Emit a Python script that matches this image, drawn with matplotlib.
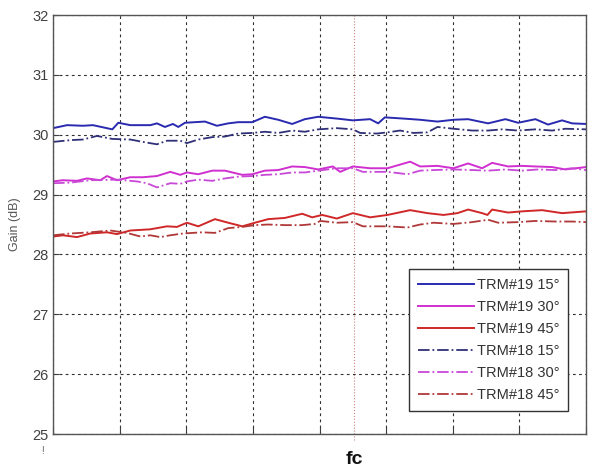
import matplotlib
matplotlib.use('Agg')
import matplotlib.pyplot as plt

plt.rcParams['font.family'] = ['Liberation Sans', 'DejaVu Sans']

# Frequency axis in grid units (8 divisions), fc marker position
fc = 4.52

# TRM#19 15 deg (solid)
x19_15 = [0, 0.21, 0.45, 0.60, 0.89, 0.98, 1.16, 1.46, 1.56, 1.68, 1.80, 1.88, 1.98, 2.28, 2.46, 2.63, 2.78,
          2.99, 3.18, 3.38, 3.59, 3.78, 3.98, 4.26, 4.50, 4.76, 4.88, 4.98, 5.26, 5.51, 5.77, 6.01, 6.23,
          6.53, 6.79, 6.98, 7.24, 7.43, 7.64, 7.79, 8.0]
g19_15 = [30.11, 30.16, 30.15, 30.16, 30.09, 30.20, 30.16, 30.16, 30.19, 30.13, 30.18, 30.13, 30.20, 30.22,
          30.15, 30.19, 30.21, 30.21, 30.30, 30.25, 30.18, 30.26, 30.30, 30.27, 30.24, 30.26, 30.19, 30.29,
          30.27, 30.25, 30.22, 30.25, 30.26, 30.19, 30.26, 30.20, 30.26, 30.17, 30.24, 30.19, 30.18]

# TRM#19 30 deg
x19_30 = [0, 0.15, 0.36, 0.51, 0.71, 0.81, 0.96, 1.16, 1.35, 1.56, 1.76, 1.91, 2.01, 2.18, 2.39, 2.58, 2.84,
          2.99, 3.18, 3.38, 3.59, 3.78, 3.98, 4.20, 4.31, 4.50, 4.76, 5.02, 5.36, 5.51, 5.77, 6.01, 6.23,
          6.44, 6.59, 6.83, 7.04, 7.24, 7.49, 7.69, 8.0]
g19_30 = [29.22, 29.24, 29.23, 29.27, 29.24, 29.31, 29.24, 29.29, 29.29, 29.31, 29.38, 29.33, 29.37, 29.34,
          29.40, 29.40, 29.33, 29.34, 29.40, 29.41, 29.47, 29.46, 29.42, 29.47, 29.38, 29.47, 29.44, 29.44,
          29.55, 29.47, 29.48, 29.44, 29.52, 29.44, 29.53, 29.47, 29.48, 29.47, 29.46, 29.42, 29.46]

# TRM#19 45 deg
x19_45 = [0, 0.15, 0.36, 0.56, 0.81, 0.96, 1.16, 1.46, 1.71, 1.86, 2.01, 2.18, 2.43, 2.63, 2.84, 3.03, 3.23,
          3.48, 3.74, 3.89, 4.04, 4.26, 4.50, 4.76, 5.02, 5.36, 5.62, 5.86, 6.07, 6.23, 6.44, 6.52, 6.59,
          6.83, 7.04, 7.34, 7.64, 8.0]
g19_45 = [28.30, 28.32, 28.29, 28.35, 28.37, 28.34, 28.40, 28.42, 28.47, 28.46, 28.53, 28.47, 28.59, 28.53,
          28.47, 28.53, 28.59, 28.61, 28.68, 28.62, 28.66, 28.60, 28.69, 28.62, 28.66, 28.74, 28.69, 28.66,
          28.69, 28.75, 28.69, 28.66, 28.75, 28.70, 28.72, 28.74, 28.69, 28.72]

# TRM#18 15 deg (dash-dot)
x18_15 = [0, 0.26, 0.45, 0.66, 0.89, 1.16, 1.35, 1.56, 1.71, 1.91, 2.01, 2.18, 2.39, 2.58, 2.78, 2.99, 3.18,
          3.38, 3.59, 3.78, 3.98, 4.26, 4.50, 4.61, 4.86, 5.02, 5.21, 5.41, 5.62, 5.77, 6.01, 6.29, 6.53,
          6.74, 6.98, 7.24, 7.49, 7.69, 8.0]
g18_15 = [29.88, 29.91, 29.92, 29.98, 29.93, 29.92, 29.88, 29.84, 29.90, 29.90, 29.86, 29.92, 29.96, 29.97,
          30.02, 30.03, 30.05, 30.03, 30.07, 30.05, 30.09, 30.11, 30.09, 30.03, 30.02, 30.04, 30.07, 30.03,
          30.04, 30.13, 30.10, 30.07, 30.07, 30.09, 30.07, 30.09, 30.07, 30.10, 30.09]

# TRM#18 30 deg
x18_30 = [0, 0.26, 0.56, 0.96, 1.26, 1.41, 1.56, 1.76, 1.91, 2.01, 2.18, 2.39, 2.58, 2.78, 2.99, 3.18, 3.38,
          3.59, 3.78, 3.98, 4.26, 4.50, 4.65, 5.02, 5.32, 5.51, 5.71, 6.01, 6.29, 6.53, 6.79, 7.04, 7.28,
          7.54, 7.79, 8.0]
g18_30 = [29.19, 29.20, 29.24, 29.25, 29.22, 29.19, 29.12, 29.19, 29.18, 29.22, 29.25, 29.23, 29.27, 29.30,
          29.31, 29.33, 29.34, 29.37, 29.37, 29.40, 29.44, 29.44, 29.38, 29.38, 29.34, 29.40, 29.41, 29.42,
          29.41, 29.40, 29.42, 29.40, 29.42, 29.41, 29.44, 29.41]

# TRM#18 45 deg
x18_45 = [0, 0.26, 0.56, 0.86, 1.11, 1.31, 1.46, 1.61, 1.76, 1.95, 2.24, 2.43, 2.63, 2.84, 3.03, 3.23, 3.48,
          3.74, 3.93, 4.01, 4.26, 4.50, 4.65, 5.02, 5.32, 5.51, 5.71, 6.01, 6.29, 6.53, 6.68, 6.98, 7.24,
          7.54, 7.79, 8.0]
g18_45 = [28.32, 28.35, 28.37, 28.40, 28.36, 28.30, 28.32, 28.29, 28.32, 28.35, 28.37, 28.36, 28.44, 28.46,
          28.49, 28.50, 28.49, 28.49, 28.51, 28.56, 28.53, 28.54, 28.47, 28.47, 28.45, 28.50, 28.53, 28.51,
          28.54, 28.58, 28.53, 28.54, 28.56, 28.55, 28.55, 28.54]

y_ticks = [25, 26, 27, 28, 29, 30, 31, 32]

fig = plt.figure(figsize=(5.89, 4.68), dpi=100)
ax = fig.add_axes([0.090, 0.0726, 0.905, 0.8953])

# Solid lines: TRM#19
ax.plot(x19_15, g19_15, color='#2a2ab0', lw=1.4, label='TRM#19 15°')
ax.plot(x19_30, g19_30, color='#d030d0', lw=1.4, label='TRM#19 30°')
ax.plot(x19_45, g19_45, color='#d02828', lw=1.4, label='TRM#19 45°')
# Dash-dot lines: TRM#18
ax.plot(x18_15, g18_15, color='#303078', lw=1.3, ls='-.', label='TRM#18 15°')
ax.plot(x18_30, g18_30, color='#c848d8', lw=1.3, ls='-.', label='TRM#18 30°')
ax.plot(x18_45, g18_45, color='#b03838', lw=1.3, ls='-.', label='TRM#18 45°')

# fc marker, running slightly below the axis
ax.axvline(fc, ymin=-0.015, ymax=1, color='#d08080', lw=0.8, ls=':', clip_on=False, zorder=1)

ax.set_xlim(0, 8)
ax.set_ylim(25, 32)
ax.set_xticks(range(9))
ax.set_xticklabels([])
ax.set_yticks(y_ticks)
ax.set_yticklabels([str(v) for v in y_ticks])
ax.tick_params(direction='in', length=4, colors='#404040', labelsize=10.5, pad=3)
ax.tick_params(axis='x', length=5)
ax.grid(True, color='#303030', ls=(0, (2.5, 3)), lw=0.8)
for s in ax.spines.values():
    s.set_color('#555555')
    s.set_linewidth(1.0)

ax.set_ylabel('Gain (dB)', color='#555555', fontsize=9, labelpad=8)
ax.text(fc, 24.72, 'fc', ha='center', va='top', fontsize=14, fontweight='bold', color='#111111')
ax.text(-0.16, 24.8, '!', ha='center', va='top', fontsize=7, color='#666666')

leg = ax.legend(loc='lower right', bbox_to_anchor=(0.966, 0.055), fontsize=10.5, fancybox=False,
                framealpha=1, edgecolor='#333333', handlelength=3.8, handletextpad=0.2,
                labelspacing=0.55, borderpad=0.6, borderaxespad=0)
for t in leg.get_texts():
    t.set_color('#333333')

fig.savefig('out.png', dpi=100)
